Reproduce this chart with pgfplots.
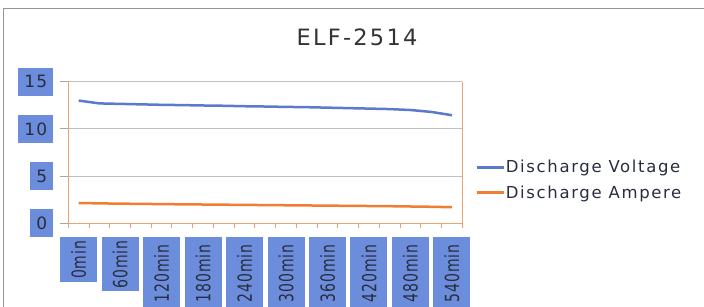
\documentclass[border=0pt]{standalone}
\usepackage{pgfplots}
\pgfplotsset{compat=1.18}
\usepackage{pgfplotstable}
\usepackage{graphicx}
\usepackage{fontspec}
\setmainfont{DejaVu Sans}
\newfontfamily\lblfont[LetterSpace=6]{DejaVu Sans}
\newfontfamily\legfont[LetterSpace=10]{DejaVu Sans}
\newfontfamily\titfont[LetterSpace=10]{DejaVu Sans}
\definecolor{boxblue}{RGB}{108,140,220}
\definecolor{txt}{RGB}{40,46,62}
\definecolor{volt}{RGB}{92,122,205}
\definecolor{amp}{RGB}{240,125,50}
\definecolor{axor}{RGB}{232,165,115}
\definecolor{frame}{RGB}{150,150,150}
\newcommand\xl[2]{\makebox[#2pt][c]{\scalebox{0.72}[1]{#1}}}
\pgfplotstableread{
x V A
0 13.00 2.15
1 12.70 2.11
2 12.65 2.08
3 12.60 2.06
4 12.55 2.03
5 12.52 2.01
6 12.48 1.99
7 12.45 1.97
8 12.40 1.95
9 12.37 1.93
10 12.33 1.91
11 12.30 1.89
12 12.25 1.87
13 12.20 1.85
14 12.15 1.83
15 12.10 1.81
16 12.00 1.78
17 11.80 1.75
18 11.45 1.70
}\data
\begin{document}
\begin{tikzpicture}[x=1pt,y=1pt]
\draw[frame, line width=1pt] (3,0) -- (3,298) -- (704,298);
\node[font=\titfont\fontsize{22.5}{22.5}\selectfont, text=black!80] at (357,270) {ELF-2514};
\begin{axis}[
  at={(68.3pt,83.7pt)}, anchor=south west,
  scale only axis, width=394pt, height=141.6pt,
  xmin=-0.5, xmax=18.5, ymin=0, ymax=15,
  axis x line*=bottom, axis y line*=box,
  x axis line style={axor, line width=1.2pt},
  y axis line style={axor, line width=1.5pt},
  ytick={0,5,10,15}, yticklabels={0,5,10,15}, ytick pos=left,
  ymajorgrids, major grid style={black!25, line width=0.8pt},
  xtick={0,2,...,18},
  xticklabels={\xl{0min}{45},\xl{60min}{54},\xl{120min}{72},\xl{180min}{72},\xl{240min}{72},\xl{300min}{72},\xl{360min}{72},\xl{420min}{72},\xl{480min}{72},\xl{540min}{72}},
  minor xtick={-0.5,0.5,...,18.5},
  tick align=outside,
  major tick length=8pt, minor tick length=5pt,
  major x tick style={draw=none},
  minor x tick style={axor, line width=1pt},
  major y tick style={black!35, line width=0.8pt},
  xticklabel style={rotate=90, anchor=east, fill=boxblue, inner sep=0pt, minimum height=37pt, text=txt, font=\lblfont\fontsize{19.5}{19.5}\selectfont},
  xticklabel shift=6pt,
  yticklabel style={anchor=east, fill=boxblue, inner xsep=6pt, inner ysep=0pt, minimum height=28pt, text=txt, font=\lblfont\fontsize{17}{17}\selectfont},
  yticklabel shift=7pt,
  legend style={draw=none, fill=none, at={(1.025,0.306)}, anchor=west, font=\legfont\fontsize{16.5}{16.5}\selectfont, text=txt, row sep=9pt, nodes={inner sep=1pt}},
  legend cell align=left,
  legend image code/.code={\draw[#1, line width=2.5pt] (0pt,0pt) -- (27pt,0pt);},
]
\addplot[volt, line width=2.5pt] table[x=x, y=V] {\data};
\addlegendentry{Discharge Voltage}
\addplot[amp, line width=2.5pt] table[x=x, y=A] {\data};
\addlegendentry{Discharge Ampere}
\end{axis}
\pgfresetboundingbox
\useasboundingbox (0,0) rectangle (704,307);
\end{tikzpicture}
\end{document}
